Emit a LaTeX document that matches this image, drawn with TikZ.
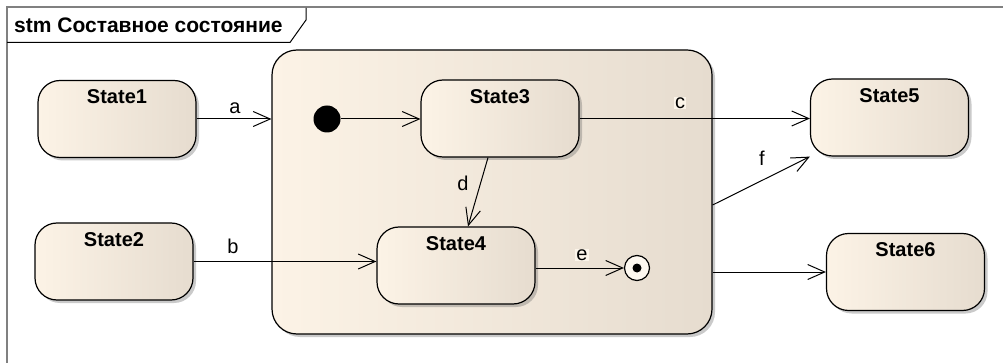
\documentclass[tikz,border=0pt]{standalone}
\usepackage{fontspec}
\setmainfont{Liberation Sans}
\usetikzlibrary{arrows.meta,shadows,calc}
\definecolor{stL}{HTML}{FCF3E6}
\definecolor{stR}{HTML}{E6DCCF}
\definecolor{frameGray}{HTML}{808080}
\definecolor{lblBg}{HTML}{FCF5EA}
\tikzset{
  stbox/.style={draw=black, line width=1.2pt, rounded corners=22pt,
    minimum width=158pt, minimum height=77pt, inner sep=0pt,
    left color=stL, right color=stR,
    drop shadow={shadow xshift=3pt, shadow yshift=-3pt, opacity=0.35, fill=black!60}},
  stname/.style={font=\fontsize{20}{24}\selectfont\bfseries},
  trans/.style={draw=black, line width=1pt, -{Straight Barb[length=17pt,width=15pt,line width=1pt]}},
  tlabel/.style={font=\fontsize{20}{24}\selectfont, inner sep=1pt},
}
\begin{document}
\begin{tikzpicture}[x=1pt,y=-1pt]
\useasboundingbox (0,0) rectangle (1003,363);
% frame
\draw[frameGray, line width=2pt] (1003,7.5) -- (6.5,7.5) -- (6.5,365);
\node[anchor=west, font=\fontsize{21}{25}\selectfont\bfseries, inner sep=0pt] (title) at (14,25.5) {stm Составное состояние};
\draw[black, line width=1pt] (7,42.5) -- (290,42.5) -- (306,20) -- (306,8);
% composite
\node[stbox, rounded corners=25pt, minimum width=440pt, minimum height=284pt] (comp) at (492,192) {};
% states
\node[stbox, label={[stname, anchor=center, yshift=-17pt]north:State1}] (s1) at (117,119) {};
\node[stbox, label={[stname, anchor=center, yshift=-17pt]north:State2}] (s2) at (114,261.5) {};
\node[stbox, label={[stname, anchor=center, yshift=-17pt]north:State3}] (s3) at (500,118.5) {};
\node[stbox, label={[stname, anchor=center, yshift=-17pt]north:State4}] (s4) at (456,265.5) {};
\node[stbox, label={[stname, anchor=center, yshift=-17pt]north:State5}] (s5) at (889.5,117.5) {};
\node[stbox, label={[stname, anchor=center, yshift=-17pt]north:State6}] (s6) at (905.5,272) {};
% pseudo states
\node[circle, fill=black, minimum size=27pt, inner sep=0pt] (init) at (327,119) {};
\node[circle, draw=black, line width=1.2pt, fill=stL!60!white, minimum size=25pt, inner sep=0pt] (fin) at (637,268) {};
\fill[black] (fin.center) circle (4.5pt);
% transitions
\draw[trans] (s1.east) -- (s1.east -| comp.west);
\draw[trans] (s2.east) -- (s2.east -| s4.west);
\draw[trans] (init) -- (init -| s3.west);
\draw[trans] (s3.east) -- (s3.east -| s5.west);
\draw[trans] ([xshift=-12pt]s3.south) -- ([xshift=12pt]s4.north);
\draw[trans] (fin -| s4.east) -- (fin.west);
\draw[trans] ([yshift=-13pt]comp.east) -- (s5.south west);
\draw[trans] (s6.west -| comp.east) -- (s6.west);
% labels
\node[tlabel] (la) at (235,108) {a};
\node[tlabel] (lb) at (233,246) {b};
\node[tlabel, fill=lblBg] (lc) at (680,103) {c};
\node[tlabel] (ld) at (463,183) {d};
\node[tlabel, fill=lblBg] (le) at (582,255) {e};
\node[tlabel] (lf) at (762,158) {f};
\end{tikzpicture}
\end{document}
